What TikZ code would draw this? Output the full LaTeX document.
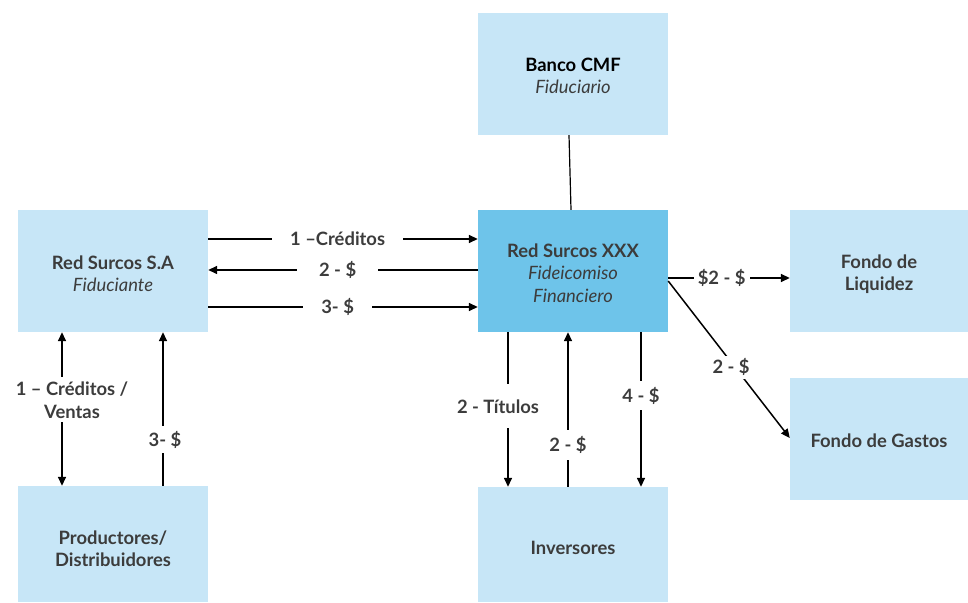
\documentclass[tikz,border=0pt]{standalone}
\usepackage{fontspec}
\setmainfont{Lato}
\usetikzlibrary{arrows.meta}
\definecolor{lightbox}{RGB}{199,230,247}
\definecolor{darkbox}{RGB}{110,196,234}
\definecolor{txt}{RGB}{60,60,60}
\begin{document}
\begin{tikzpicture}[x=1pt,y=1pt,
  box/.style={fill=lightbox,draw=none,minimum width=190pt,minimum height=122pt,
    align=center,text=txt,font=\fontsize{18.4}{22}\selectfont,inner sep=0pt},
  conn/.style={line width=1.5pt,draw=black},
  tip/.style={-{Triangle[length=9pt,width=8pt]}},
  lbl/.style={fill=white,text=txt,font=\bfseries\fontsize{18.4}{23}\selectfont,align=center,inner xsep=6pt,inner ysep=5pt}
]
\useasboundingbox (0,0) rectangle (968,602);

\node[box,text height=42pt] (rsa) at (113,331) {\textbf{Red Surcos S.A}\\\textit{Fiduciante}};
\node[box,text=black,text height=40pt] (banco) at (573,528) {\textbf{Banco CMF}\\\textcolor{txt}{\textit{Fiduciario}}};
\node[box,fill=darkbox,font=\fontsize{18.4}{22.5}\selectfont,text height=63pt] (xxx) at (573,331) {\textbf{Red Surcos XXX}\\\textit{Fideicomiso}\\\textit{Financiero}};
\node[box,minimum width=178pt,text height=42pt] (liq) at (879,331) {\textbf{Fondo de}\\\textbf{Liquidez}};
\node[box,minimum width=178pt,text height=18pt] (gas) at (879,163) {\textbf{Fondo de Gastos}};
\node[box,minimum height=116pt,text height=46pt] (prod) at (113,58) {\textbf{Productores/}\\\textbf{Distribuidores}};
\node[box,minimum height=115pt,text height=21pt] (inv) at (573,57.5) {\textbf{Inversores}};

% horizontal between rsa and xxx
\draw[conn,tip] (rsa.east |- 0,363) -- node[lbl,pos=0.48,inner xsep=18pt]{1 –Créditos} (xxx.west |- 0,363);
\draw[conn,tip] (xxx.west |- 0,332) -- node[lbl,pos=0.52,inner xsep=22pt]{2 - \$} (rsa.east |- 0,332);
\draw[conn,tip] (rsa.east |- 0,295) -- node[lbl,pos=0.48,inner xsep=18pt]{3- \$} (xxx.west |- 0,295);

% banco to xxx
\draw[line width=1.2pt] ([xshift=-4pt]banco.south) -- ([xshift=-2pt]xxx.north);

% left verticals
\draw[conn,{Triangle[length=9pt,width=8pt]}-{Triangle[length=9pt,width=8pt]}] (rsa.south -| 62,0) -- node[lbl,pos=0.44,xshift=10pt,inner ysep=4pt]{1 – Créditos /\\Ventas} (prod.north -| 62,0);
\draw[conn,tip] (prod.north -| 163,0) -- node[lbl,pos=0.3,xshift=2pt,inner xsep=3pt]{3- \$} (rsa.south -| 163,0);

% verticals xxx / inv
\draw[conn,tip] (xxx.south -| 508,0) -- node[lbl,pos=0.48,xshift=-10pt,inner ysep=15pt]{2 - Títulos} (inv.north -| 508,0);
\draw[conn,tip] (inv.north -| 568,0) -- node[lbl,pos=0.27,inner ysep=6pt]{2 - \$} (xxx.south -| 568,0);
\draw[conn,tip] (xxx.south -| 641,0) -- node[lbl,pos=0.41,inner ysep=6pt]{4 - \$} (inv.north -| 641,0);

% right
\draw[conn,tip] (xxx.east |- 0,324) -- node[lbl,pos=0.44,inner xsep=4pt]{\$2 - \$} (liq.west |- 0,324);
\draw[conn,tip] (xxx.east |- 0,321) -- node[lbl,pos=0.55,xshift=-4pt,inner sep=3pt]{2 - \$} (gas.west |- 0,164);
\end{tikzpicture}
\end{document}
